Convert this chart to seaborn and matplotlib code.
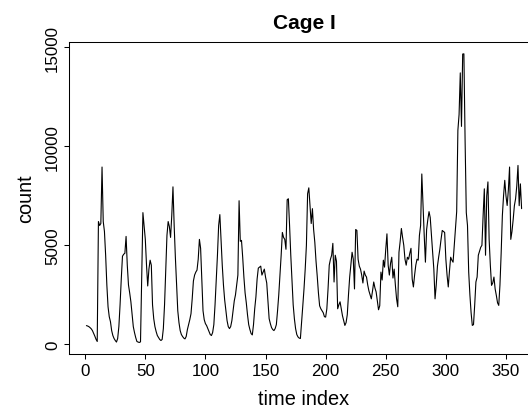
import matplotlib
matplotlib.use("Agg")
import matplotlib.pyplot as plt
import seaborn as sns
import pandas as pd

# daily counts (time index 1..363)
counts = [
    950, 930, 900, 850, 790, 700, 560, 420, 260, 150,
    6200, 6000, 6100, 8950, 6200, 5700, 4500, 3000, 1900, 1400,
    1150, 700, 450, 300, 200, 120, 300, 900, 2000, 3300,
    4450, 4550, 4600, 5450, 4000, 3000, 2600, 2150, 1500, 900,
    600, 350, 150, 120, 100, 130, 3500, 6650, 6000, 5300,
    4000, 2950, 3800, 4250, 4000, 2000, 1300, 900, 650, 450,
    350, 250, 200, 250, 800, 2000, 3800, 5500, 6200, 5950,
    5400, 6500, 7950, 6000, 4400, 3000, 1700, 1100, 700, 500,
    400, 320, 280, 400, 750, 1000, 1250, 1550, 2300, 3200,
    3500, 3650, 3750, 4300, 5300, 4850, 3200, 1700, 1250, 1050,
    950, 800, 650, 500, 450, 600, 1000, 2000, 3200, 4500,
    6000, 6550, 5300, 4000, 3000, 2250, 1700, 1200, 900, 800,
    900, 1200, 1700, 2200, 2500, 3000, 3500, 7250, 5200, 5250,
    4400, 3400, 2600, 2100, 1500, 1000, 750, 550, 480, 1000,
    1800, 2400, 3300, 3850, 3900, 3950, 3500, 3650, 3800, 3400,
    3100, 2200, 1300, 1050, 850, 750, 700, 800, 1000, 1700,
    2500, 3500, 4500, 5650, 5400, 5300, 4800, 7300, 7350, 6000,
    4500, 3200, 2000, 1300, 800, 500, 380, 320, 300, 1100,
    1950, 2800, 3800, 5000, 7600, 7900, 7000, 6100, 6850, 5800,
    5150, 4200, 3450, 2600, 1950, 1800, 1700, 1600, 1400, 1380,
    1800, 2800, 4000, 4300, 4500, 5100, 3150, 4500, 4200, 1800,
    2000, 2150, 1800, 1450, 1200, 960, 1100, 1500, 2500, 3400,
    4000, 4650, 4300, 2800, 5800, 5750, 4300, 3950, 3800, 3500,
    3100, 3700, 3500, 3400, 3000, 2700, 2500, 2300, 2700, 3150,
    2850, 2650, 2200, 1750, 1950, 3650, 3250, 4250, 3900, 4800,
    5580, 4000, 3500, 4100, 4400, 3350, 3800, 3000, 2300, 1900,
    4650, 5200, 5850, 5400, 5000, 4300, 4000, 4400, 4300, 4600,
    4850, 3300, 2900, 3500, 4000, 4300, 4250, 5500, 6000, 8600,
    7000, 5500, 4150, 5800, 6300, 6700, 6400, 5500, 4650, 3800,
    2300, 3000, 3950, 4400, 4800, 5300, 5750, 5700, 5650, 4300,
    3500, 2900, 3700, 4400, 4250, 4150, 5000, 5800, 6700, 10800,
    11600, 13700, 11000, 14650, 14660, 10300, 6650, 6000, 3650, 2500,
    1600, 960, 1000, 2000, 3150, 3400, 4500, 4700, 4900, 5000,
    6500, 7850, 4500, 7500, 8200, 5300, 4000, 2980, 3100, 3400,
    2800, 2470, 2100, 1970, 3000, 4600, 6500, 7500, 8280, 7500,
    7010, 7800, 8950, 5300, 5700, 6300, 7000, 7350, 8000, 9030,
    7000, 8100, 6850,
]
time_index = list(range(1, len(counts) + 1))
x_ticks = [0, 50, 100, 150, 200, 250, 300, 350]
y_ticks = [0, 5000, 10000, 15000]
title = "Cage I"
x_label = "time index"
y_label = "count"

sns.set_style("ticks")
plt.rcParams["font.family"] = ["Liberation Sans", "DejaVu Sans"]

df = pd.DataFrame({"time index": time_index, "count": counts})

fig = plt.figure(figsize=(5.28, 4.10), dpi=100)
ax = fig.add_axes([69 / 528, 55 / 410, 470 / 528, 311.7 / 410])
sns.lineplot(data=df, x="time index", y="count", ax=ax, color="black",
             linewidth=0.8)

ax.set_xlim(-13.48, 377.48)
ax.set_ylim(-482, 15242)
ax.set_xticks(x_ticks)
ax.set_xticklabels([str(v) for v in x_ticks], fontsize=12.2)
ax.set_yticks(y_ticks)
ax.set_yticklabels([str(v) for v in y_ticks], fontsize=12.2, rotation=90,
                   va="center")
ax.tick_params(axis="both", direction="out", length=3.8, width=0.75,
               color="black", pad=2.5, labelcolor="black")
for s in ax.spines.values():
    s.set_visible(True)
    s.set_color("black")
    s.set_linewidth(0.75)

ax.set_xlabel(x_label, fontsize=14.4, labelpad=8, color="black")
ax.set_ylabel(y_label, fontsize=14.4, labelpad=7, color="black")
ax.set_title(title, fontsize=15, fontweight="bold", pad=10, color="black")

fig.savefig("out.png", dpi=100)
